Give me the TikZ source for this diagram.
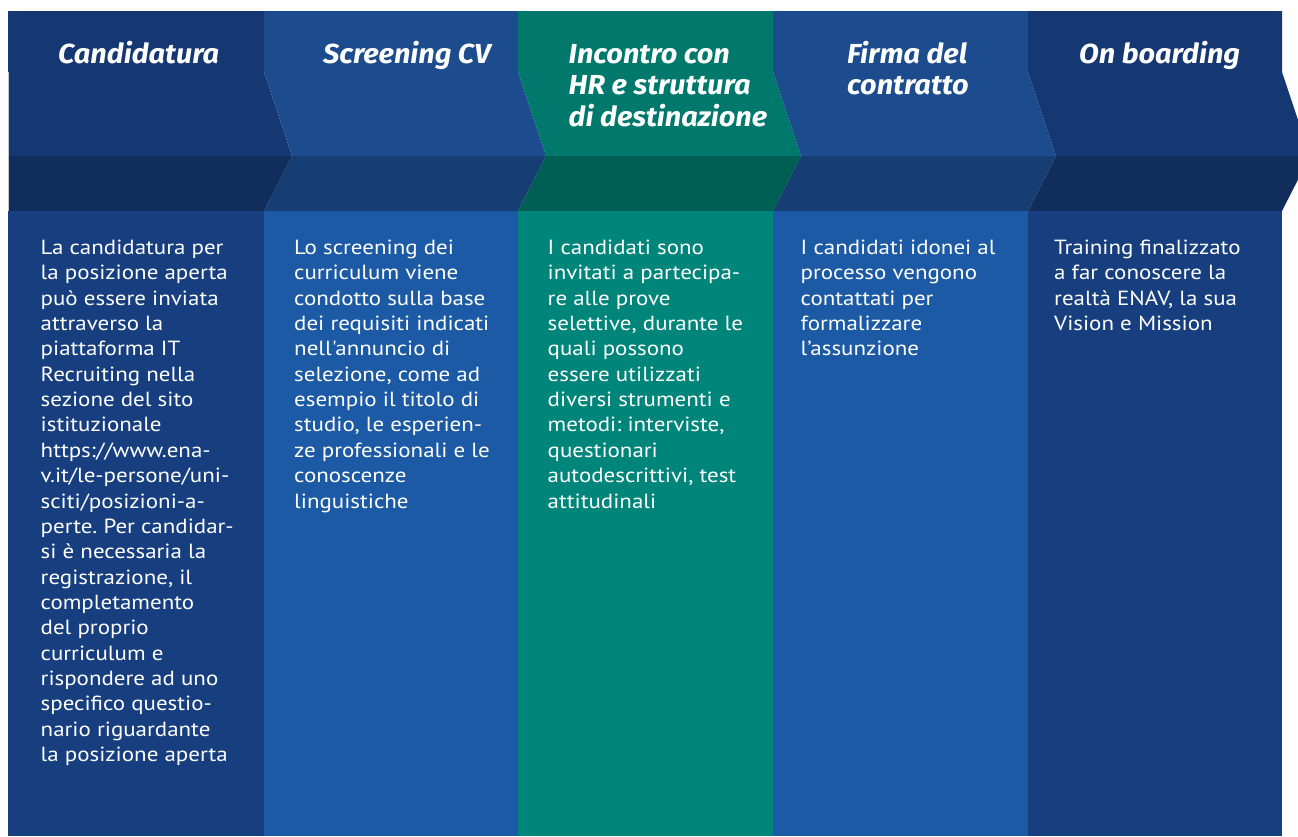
\documentclass[tikz,border=0pt]{standalone}
\usepackage{fontspec}
\setmainfont{PT Sans}[Ligatures=TeXOff, FakeStretch=1.12]
\newfontfamily\titlefont{Fira Sans}[FakeStretch=1.05]
\definecolor{navyTop}{HTML}{163872}
\definecolor{navyBand}{HTML}{112D5B}
\definecolor{navyBody}{HTML}{173F80}
\definecolor{blueTop}{HTML}{1C4C8E}
\definecolor{blueBand}{HTML}{163E72}
\definecolor{blueBody}{HTML}{1C5AA5}
\definecolor{tealTop}{HTML}{00786B}
\definecolor{tealBand}{HTML}{005F55}
\definecolor{tealBody}{HTML}{00857A}
\definecolor{edgeGray}{HTML}{C8C8C8}
\newcommand\mylines[1]{\begin{tabular}[t]{@{}l@{}}#1\end{tabular}}
\frenchspacing
\tikzset{
  titletext/.style={anchor=base west, inner sep=0pt, text=white,
    font=\titlefont\bfseries\itshape\fontsize{27.5}{31}\selectfont},
  bodytext/.style={anchor=base west, inner sep=0pt, text=white,
    font=\fontsize{20.5}{25.37}\selectfont},
}
\begin{document}
\begin{tikzpicture}[x=1pt,y=-1pt]
\useasboundingbox (0,0) rectangle (1298,836);
\clip (0,0) rectangle (1298,836);
% column 1
\fill[navyTop] (8,11) -- (264,11) -- (264,72) -- (292,156) -- (8,156) -- cycle;
\fill[navyBand] (8,156) -- (292,156) -- (264,211) -- (8,211) -- cycle;
\fill[navyBody] (8,211) rectangle (264,836);
% column 2
\fill[blueTop] (264,11) -- (518,11) -- (518,72) -- (546,156) -- (292,156) -- (264,72) -- cycle;
\fill[blueBand] (292,156) -- (546,156) -- (518,211) -- (264,211) -- cycle;
\fill[blueBody] (264,211) rectangle (518,836);
% column 3
\fill[tealTop] (518,11) -- (773,11) -- (773,72) -- (801,156) -- (546,156) -- (518,72) -- cycle;
\fill[tealBand] (546,156) -- (801,156) -- (773,211) -- (518,211) -- cycle;
\fill[tealBody] (518,211) rectangle (773,836);
% column 4
\fill[blueTop] (773,11) -- (1028,11) -- (1028,72) -- (1056,156) -- (801,156) -- (773,72) -- cycle;
\fill[blueBand] (801,156) -- (1056,156) -- (1028,211) -- (773,211) -- cycle;
\fill[blueBody] (773,211) rectangle (1028,836);
% column 5
\fill[navyTop] (1028,11) -- (1282,11) -- (1282,72) -- (1310,156) -- (1056,156) -- (1028,72) -- cycle;
\fill[navyBand] (1056,156) -- (1310,156) -- (1282,211) -- (1028,211) -- cycle;
\fill[navyBody] (1028,211) rectangle (1282,836);
% left edge line
\draw[edgeGray, line width=1pt] (8.5,72) -- (8.5,211);

% titles
\node[titletext] (t1) at (58,63.5) {Candidatura};
\node[titletext] (t2) at (323,63.5) {Screening CV};
\node[titletext] (t3) at (568.5,63.5) {\mylines{Incontro con\\HR e struttura\\di destinazione}};
\node[titletext] (t4) at (847,63.5) {\mylines{Firma del\\contratto}};
\node[titletext] (t5) at (1079,63.5) {On boarding};

% body texts
\node[bodytext] (b1) at (40.5,254.3) {\mylines{La candidatura per\\la posizione aperta\\può essere inviata\\attraverso la\\piattaforma IT\\Recruiting nella\\sezione del sito\\istituzionale\\https://www.ena-\\v.it/le-persone/uni-\\sciti/posizioni-a-\\perte. Per candidar-\\si è necessaria la\\registrazione, il\\completamento\\del proprio\\curriculum e\\rispondere ad uno\\specifico questio-\\nario riguardante\\la posizione aperta}};
\node[bodytext] (b2) at (294,254.3) {\mylines{Lo screening dei\\curriculum viene\\condotto sulla base\\dei requisiti indicati\\nell'annuncio di\\selezione, come ad\\esempio il titolo di\\studio, le esperien-\\ze professionali e le\\conoscenze\\linguistiche}};
\node[bodytext] (b3) at (547.5,254.3) {\mylines{I candidati sono\\invitati a partecipa-\\re alle prove\\selettive, durante le\\quali possono\\essere utilizzati\\diversi strumenti e\\metodi: interviste,\\questionari\\autodescrittivi, test\\attitudinali}};
\node[bodytext] (b4) at (800.5,254.3) {\mylines{I candidati idonei al\\processo vengono\\contattati per\\formalizzare\\l’assunzione}};
\node[bodytext] (b5) at (1054,254.3) {\mylines{Training finalizzato\\a far conoscere la\\realtà ENAV, la sua\\Vision e Mission}};
\end{tikzpicture}
\end{document}
